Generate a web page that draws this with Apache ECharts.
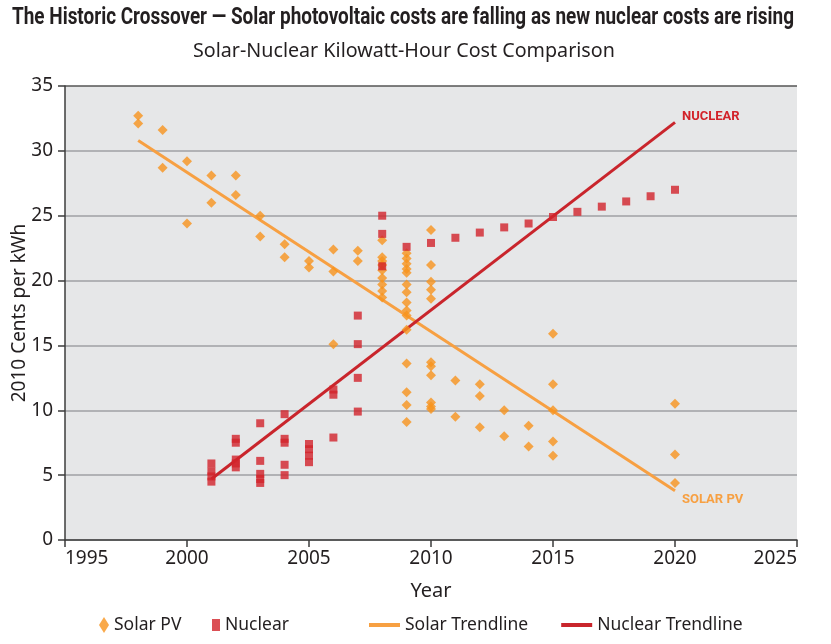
<!DOCTYPE html>
<html>
<head>
<meta charset="utf-8">
<script src="https://cdn.jsdelivr.net/npm/echarts@6/dist/echarts.min.js"></script>
<style>
html,body{margin:0;padding:0;background:#fff;}
#chart{width:831px;height:644px;}
</style>
</head>
<body>
<div id="chart"></div>
<script>
// ---- Data ----
var titleText = 'The Historic Crossover \u2014 Solar photovoltaic costs are falling as new nuclear costs are rising';
var subtitleText = 'Solar-Nuclear Kilowatt-Hour Cost Comparison';

var solarYears = [
  1998,1998,1999,1999,2000,2000,2001,2001,2002,2002,2003,2003,2004,2004,2005,2005,
  2006,2006,2006,2007,2007,
  2008,2008,2008,2008,2008,2008,2008,2008,2008,
  2009,2009,2009,2009,2009,2009,2009,2009,2009,2009,2009,2009,2009,2009,2009,
  2010,2010,2010,2010,2010,2010,2010,2010,2010,2010,2010,
  2011,2011,2012,2012,2012,2013,2013,2014,2014,
  2015,2015,2015,2015,2015,2020,2020,2020
];
var solarCosts = [
  32.7,32.1,31.6,28.7,29.2,24.4,28.1,26.0,28.1,26.6,25.0,23.4,22.8,21.8,21.5,21.0,
  22.4,20.7,15.1,22.3,21.5,
  23.1,21.8,21.5,21.2,20.8,20.2,19.7,19.2,18.7,
  22.1,21.7,21.3,20.9,20.6,19.7,19.1,18.3,17.7,17.3,16.2,13.6,11.4,10.4,9.1,
  23.9,21.2,19.9,19.3,18.6,13.7,13.4,12.7,10.6,10.3,10.1,
  12.3,9.5,12.0,11.1,8.7,10.0,8.0,8.8,7.2,
  15.9,12.0,10.0,7.6,6.5,10.5,6.6,4.4
];

var nuclearYears = [
  2001,2001,2001,2001,
  2002,2002,2002,2002,2002,
  2003,2003,2003,2003,2003,
  2004,2004,2004,2004,2004,
  2005,2005,2005,2005,
  2006,2006,2006,
  2007,2007,2007,2007,
  2008,2008,2008,
  2009,2010,2011,2012,2013,2014,2015,2016,2017,2018,2019,2020
];
var nuclearCosts = [
  5.9,5.3,4.9,4.5,
  7.8,7.5,6.2,5.9,5.6,
  9.0,6.1,5.1,4.7,4.4,
  9.7,7.8,7.5,5.8,5.0,
  7.4,7.0,6.5,6.0,
  11.6,11.2,7.9,
  17.3,15.1,12.5,9.9,
  25.0,23.6,21.1,
  22.6,22.9,23.3,23.7,24.1,24.4,24.9,25.3,25.7,26.1,26.5,27.0
];

var solarTrendYears = [1998, 2020];
var solarTrendCosts = [30.8, 3.8];
var nuclearTrendYears = [2001, 2020];
var nuclearTrendCosts = [4.7, 32.2];

var xTicks = [1995, 2000, 2005, 2010, 2015, 2020, 2025];
var yTicks = [0, 5, 10, 15, 20, 25, 30, 35];

// ---- Build ----
function pairs(xs, ys){ return xs.map(function(x,i){ return [x, ys[i]]; }); }

var SOLAR = '#f7941d';
var SOLAR_LINE = '#f7a042';
var NUC = '#d2232a';
var NUC_LINE = '#c9252c';
var TXT = '#231f20';
var FONT = '"Noto Sans", sans-serif';

// condensed bold title: measure and squeeze horizontally to the reference width
var TITLE_FONT = 'bold 24px Roboto, "Noto Sans", sans-serif';
var mctx = document.createElement('canvas').getContext('2d');
mctx.font = TITLE_FONT;
var titleW = mctx.measureText(titleText).width || 900;
var titleScale = 782 / titleW;

var legendText = {fontSize: 17.5, color: TXT, fontFamily: FONT};

var chart = echarts.init(document.getElementById('chart'), null, {renderer: 'canvas'});
chart.setOption({
  animation: false,
  backgroundColor: '#ffffff',
  textStyle: {fontFamily: FONT},
  title: [
    {text: subtitleText, left: 188, top: 36, textStyle: {fontFamily: FONT, fontWeight: 'normal', fontSize: 19.7, color: TXT}}
  ],
  graphic: [
    {type: 'text', x: 12, y: 6, scaleX: titleScale, originX: 0, originY: 0,
     style: {text: titleText, font: TITLE_FONT, fill: TXT}}
  ],
  grid: {left: 65, right: 34, top: 86, bottom: 104, show: true, backgroundColor: '#e6e7e8', borderWidth: 0, containLabel: false, outerBoundsMode: 'none'},
  xAxis: {
    type: 'value', min: xTicks[0], max: xTicks[xTicks.length-1], interval: 5,
    name: 'Year', nameLocation: 'middle', nameGap: 41, nameMoveOverlap: false,
    nameTextStyle: {fontSize: 20, color: TXT, fontFamily: FONT},
    axisLine: {lineStyle: {color: '#3d3d3d', width: 1.5}},
    axisTick: {show: true, length: 7, lineStyle: {color: '#3d3d3d', width: 1.5}},
    axisLabel: {fontSize: 19, color: TXT, margin: 9, alignMinLabel: 'left', alignMaxLabel: 'right', formatter: function(v){ return String(v); }},
    splitLine: {show: false}
  },
  yAxis: {
    type: 'value', min: yTicks[0], max: yTicks[yTicks.length-1], interval: 5,
    name: '2010 Cents per kWh', nameLocation: 'middle', nameGap: 36, nameMoveOverlap: false,
    nameTextStyle: {fontSize: 19, color: TXT, fontFamily: FONT},
    axisLine: {show: true, lineStyle: {color: '#3d3d3d', width: 1.5}},
    axisTick: {show: true, length: 7, lineStyle: {color: '#3d3d3d', width: 1.5}},
    axisLabel: {fontSize: 19, color: TXT, margin: 12},
    splitLine: {show: true, lineStyle: {color: ['#9fa1a4','#9fa1a4','#9fa1a4','#9fa1a4','#9fa1a4','#9fa1a4','#9fa1a4','#555555'], width: 1.5}}
  },
  legend: [
    {
      left: 94, top: 611, itemWidth: 10, itemHeight: 16, itemGap: 5,
      textStyle: legendText,
      data: [{name: 'Solar PV', icon: 'diamond'}]
    },
    {
      left: 207, top: 611, itemWidth: 8, itemHeight: 12, itemGap: 5,
      textStyle: legendText,
      data: [{name: 'Nuclear', icon: 'rect'}]
    },
    {
      left: 364, top: 611, itemGap: 33, itemWidth: 31, itemHeight: 4,
      textStyle: legendText,
      data: [{name: 'Solar Trendline', icon: 'rect'}, {name: 'Nuclear Trendline', icon: 'rect'}]
    }
  ],
  series: [
    {
      name: 'Solar Trendline', type: 'line', data: pairs(solarTrendYears, solarTrendCosts), symbol: 'none', z: 2,
      lineStyle: {color: SOLAR_LINE, width: 3}, itemStyle: {color: SOLAR_LINE},
      endLabel: {show: true, formatter: 'SOLAR PV', distance: 7, offset: [0, 9], color: SOLAR_LINE, fontFamily: 'Roboto', fontWeight: 'bold', fontSize: 13}
    },
    {
      name: 'Nuclear Trendline', type: 'line', data: pairs(nuclearTrendYears, nuclearTrendCosts), symbol: 'none', z: 2,
      lineStyle: {color: NUC_LINE, width: 3}, itemStyle: {color: NUC_LINE},
      endLabel: {show: true, formatter: 'NUCLEAR', distance: 7, offset: [0, -6], color: NUC, fontFamily: 'Roboto', fontWeight: 'bold', fontSize: 13}
    },
    {
      name: 'Solar PV', type: 'scatter', data: pairs(solarYears, solarCosts), symbol: 'diamond', symbolSize: 10, z: 3,
      itemStyle: {color: SOLAR}
    },
    {
      name: 'Nuclear', type: 'scatter', data: pairs(nuclearYears, nuclearCosts), symbol: 'rect', symbolSize: 8, z: 3,
      itemStyle: {color: NUC}
    }
  ]
});
</script>
</body>
</html>
